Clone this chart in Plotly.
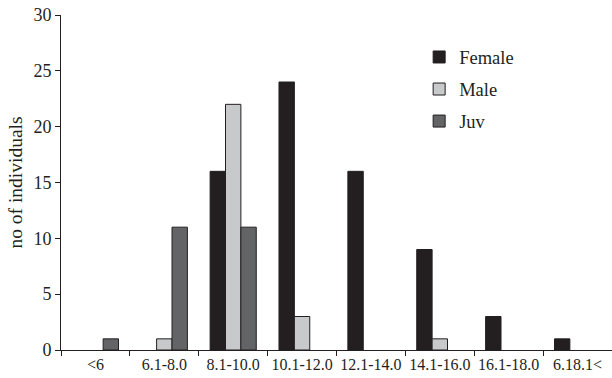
import plotly.graph_objects as go

categories = ["<6", "6.1-8.0", "8.1-10.0", "10.1-12.0", "12.1-14.0", "14.1-16.0", "16.1-18.0", "6.18.1<"]
female = [0, 0, 16, 24, 16, 9, 3, 1]
male = [0, 1, 22, 3, 0, 1, 0, 0]
juv = [1, 11, 11, 0, 0, 0, 0, 0]

def nz(v):
    return [x if x else None for x in v]

fig = go.Figure()
for name, vals, col in [("Female", female, "#231f20"), ("Male", male, "#c8c9cb"), ("Juv", juv, "#636466")]:
    fig.add_trace(go.Bar(x=categories, y=nz(vals), name=name, legendgroup=name,
                         marker=dict(color=col, line=dict(color="#231f20", width=1))))

fig.update_layout(
    width=612, height=378,
    margin=dict(l=61, r=0, t=15, b=28),
    paper_bgcolor="white", plot_bgcolor="white",
    barmode="group", bargap=0.33, bargroupgap=0,
    font=dict(family="Liberation Serif", color="#231f20"),
    legend=dict(x=0.65, y=0.93, xanchor="left", yanchor="top", font=dict(size=18.5),
                tracegroupgap=5, bgcolor="rgba(0,0,0,0)", itemwidth=30),
    showlegend=True,
)
fig.update_xaxes(showline=True, linecolor="#231f20", linewidth=1, ticks="outside", tickson="boundaries",
                 ticklen=5, tickcolor="#231f20", tickfont=dict(size=16), tickangle=0, showgrid=False)
fig.update_yaxes(range=[0, 30], dtick=5, showline=True, linecolor="#231f20", linewidth=1, ticks="outside",
                 ticklen=5, tickcolor="#231f20", tickfont=dict(size=18), showgrid=False, zeroline=False,
                 ticklabeloverflow="allow",
                 title=dict(text="no of individuals", font=dict(size=19.5), standoff=5))
fig.write_html("out.html", config={"displayModeBar": False},
               post_script="document.body.style.margin='0';")
